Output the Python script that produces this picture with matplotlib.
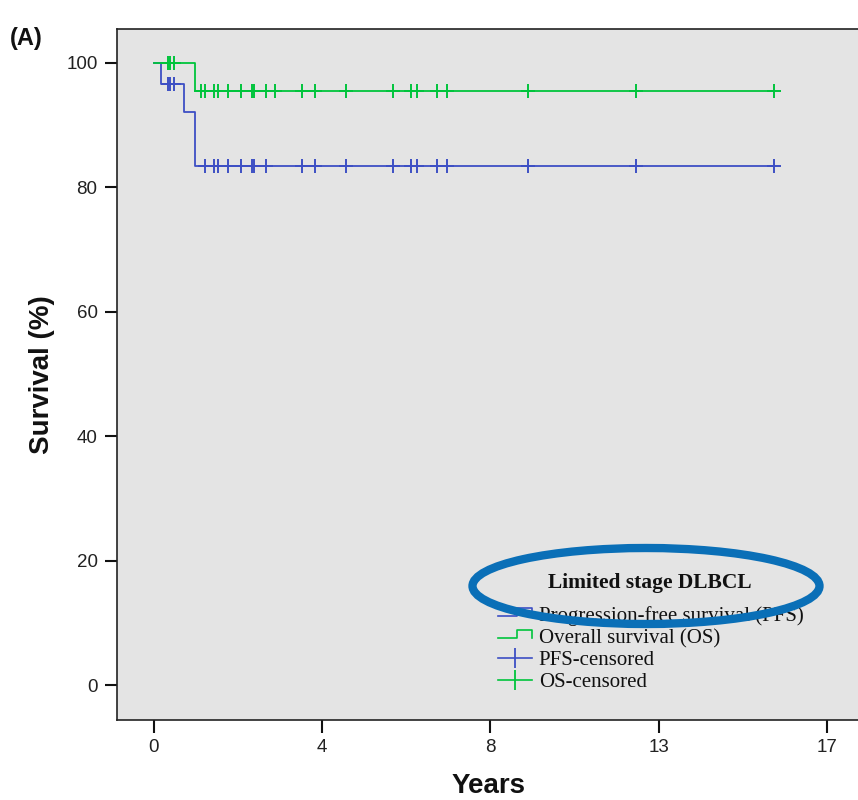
import numpy as np
import matplotlib
matplotlib.use("Agg")
import matplotlib.pyplot as plt
from matplotlib.lines import Line2D
from matplotlib.legend_handler import HandlerLine2D
from matplotlib.patches import Ellipse

# ---------------- data ----------------
pfs_times = [0.0, 0.18, 0.75, 1.03, 15.49]
pfs_surv = [100.0, 96.6, 92.0, 83.4, 83.4]
os_times = [0.0, 1.03, 15.49]
os_surv = [100.0, 95.5, 95.5]

pfs_censored = [0.36, 0.41, 0.50, 1.27, 1.51, 1.60, 1.85, 2.17, 2.46, 2.51, 2.79,
                3.70, 4.03, 4.80, 5.98, 6.41, 6.56, 7.07, 7.31, 9.35, 12.03, 15.49]
os_censored = [0.36, 0.41, 0.50, 1.18, 1.27, 1.51, 1.60, 1.85, 2.17, 2.46, 2.51, 2.79,
               3.03, 3.70, 4.03, 4.80, 5.98, 6.41, 6.56, 7.07, 7.31, 9.35, 12.03, 15.49]

xtick_pos = [0, 4.2, 8.4, 12.6, 16.8]
xtick_labels = ["0", "4", "8", "13", "17"]
ytick_pos = [0, 20, 40, 60, 80, 100]

legend_title = "Limited stage DLBCL"
legend_labels = ["Progression-free survival (PFS)", "Overall survival (OS)",
                 "PFS-censored", "OS-censored"]

BLUE = "#3d4fc4"
GREEN = "#00c43c"
BG = "#e4e4e4"


def surv_at(times, surv, t):
    idx = np.searchsorted(times, t, side="right") - 1
    return np.asarray(surv)[idx]


fig = plt.figure(figsize=(8.58, 8.0), dpi=100)
W, H = 858.0, 800.0
ax = fig.add_axes([117 / W, 1 - 720 / H, (860 - 117) / W, (720 - 29) / H])
ax.set_facecolor(BG)

ax.step(pfs_times, pfs_surv, where="post", color=BLUE, lw=1.3, zorder=3)
ax.step(os_times, os_surv, where="post", color=GREEN, lw=1.3, zorder=4)
ax.plot(pfs_censored, surv_at(pfs_times, pfs_surv, pfs_censored), ls="none",
        marker="+", ms=10, mew=1.4, color=BLUE, zorder=3)
ax.plot(os_censored, surv_at(os_times, os_surv, os_censored), ls="none",
        marker="+", ms=10, mew=1.4, color=GREEN, zorder=4)

ax.set_xlim(-0.92, 17.63)
ax.set_ylim(-5.62, 105.4)
ax.set_xticks(xtick_pos)
ax.set_xticklabels(xtick_labels)
ax.set_yticks(ytick_pos)

for s in ["left", "bottom", "top"]:
    ax.spines[s].set_linewidth(1.2)
    ax.spines[s].set_color("#222222")
ax.spines["right"].set_visible(False)

ax.tick_params(axis="both", direction="out", length=9, width=1.5, color="#111111",
               labelsize=13.5, pad=5)
for lab in ax.get_xticklabels() + ax.get_yticklabels():
    lab.set_family("Liberation Sans")
    lab.set_color("#222222")

ax.set_xlabel("Years", fontsize=20, fontweight="bold", family="Liberation Sans",
              labelpad=12, color="#111111")
ax.set_ylabel("Survival (%)", fontsize=20, fontweight="bold", family="Liberation Sans",
              labelpad=8, color="#111111")

fig.text(10 / W, 1 - 38 / H, "(A)", fontsize=17, fontweight="bold",
         family="Liberation Sans", va="center", ha="left", color="#111111")


class StepHandler(HandlerLine2D):
    def create_artists(self, legend, orig_handle, xdescent, ydescent, width,
                       height, fontsize, trans):
        x0 = -xdescent
        y0 = -ydescent
        xs = [x0, x0 + 0.55 * width, x0 + 0.55 * width, x0 + width, x0 + width]
        ys = [y0 + 0.35 * height, y0 + 0.35 * height, y0 + 0.9 * height,
              y0 + 0.9 * height, y0 + 0.35 * height]
        ln = Line2D(xs, ys, color=orig_handle.get_color(), lw=1.2)
        ln.set_transform(trans)
        return [ln]


h_pfs = Line2D([], [], color=BLUE, lw=1.2)
h_os = Line2D([], [], color=GREEN, lw=1.2)
h_pfs_c = Line2D([], [], color=BLUE, lw=1.2, marker="|", ms=14, mew=1.3)
h_os_c = Line2D([], [], color=GREEN, lw=1.2, marker="|", ms=14, mew=1.3)

leg = ax.legend([h_pfs, h_os, h_pfs_c, h_os_c], legend_labels,
                handler_map={h_pfs: StepHandler(), h_os: StepHandler()},
                loc="upper left", bbox_to_anchor=(498 / W, 1 - 606 / H),
                bbox_transform=fig.transFigure, frameon=False,
                prop={"family": "Liberation Serif", "size": 15},
                handlelength=1.65, handletextpad=0.3, labelspacing=0.12,
                borderpad=0, borderaxespad=0, numpoints=1)
for t in leg.get_texts():
    t.set_color("#111111")
leg.set_zorder(5)

fig.text(650 / W, 1 - 583 / H, legend_title, fontsize=15.5, fontweight="bold",
         family="Liberation Serif", ha="center", va="center", color="#111111",
         zorder=6)

ell = Ellipse((646 / W, 1 - 586 / H), 347 / W, 76 / H, transform=fig.transFigure,
              fill=False, edgecolor="#0a6fb7", lw=6, zorder=10)
fig.add_artist(ell)

fig.savefig("out.png", dpi=100, facecolor="white")
